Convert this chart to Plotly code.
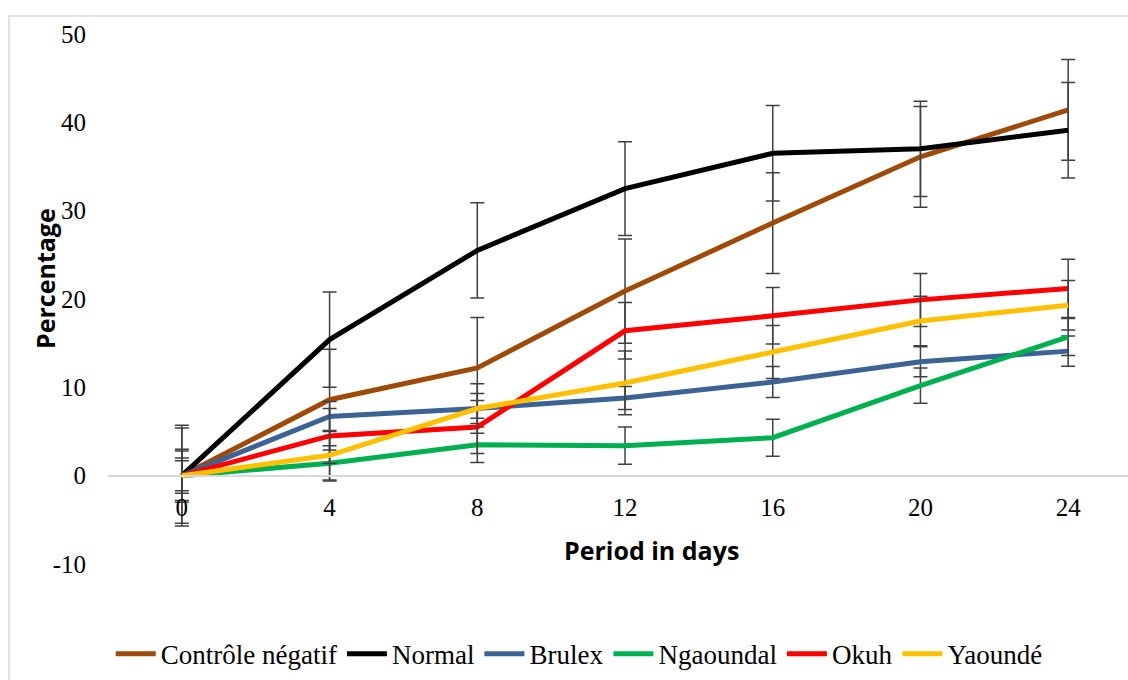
import plotly.graph_objects as go

days = [0, 4, 8, 12, 16, 20, 24]
y_ticks = [-10, 0, 10, 20, 30, 40, 50]
y_ticktext = ["-10", "0", "10", "20", "30", "40", "50"]
series_names = ["Contrôle négatif", "Normal", "Brulex", "Ngaoundal", "Okuh", "Yaoundé"]
colors = ["#9E4A09", "#000000", "#3B6396", "#00B050", "#FF0000", "#FFC000"]

controle = [0, 8.6, 12.2, 20.9, 28.6, 36.1, 41.4]
normal = [0, 15.4, 25.5, 32.5, 36.5, 37.0, 39.1]
brulex = [0, 6.7, 7.6, 8.8, 10.6, 12.9, 14.1]
ngaoundal = [0, 1.4, 3.5, 3.4, 4.3, 10.2, 15.7]
okuh = [0, 4.5, 5.5, 16.4, 18.1, 19.9, 21.2]
yaounde = [0, 2.3, 7.6, 10.5, 14.0, 17.5, 19.3]

err_controle = [5.7, 5.7, 5.7, 5.9, 5.7, 5.7, 5.7]
err_normal = [5.4, 5.4, 5.4, 5.3, 5.4, 5.4, 5.4]
err_brulex = [1.7, 1.7, 1.7, 1.3, 1.75, 1.7, 1.7]
err_ngaoundal = [2.0, 2.0, 2.0, 2.1, 2.1, 2.0, 2.1]
err_okuh = [3.0, 3.1, 3.0, 3.2, 3.2, 3.0, 3.3]
err_yaounde = [2.8, 2.8, 2.8, 3.6, 3.0, 2.8, 2.8]

values = [controle, normal, brulex, ngaoundal, okuh, yaounde]
errors = [err_controle, err_normal, err_brulex, err_ngaoundal, err_okuh, err_yaounde]

fig = go.Figure()
for name, col, v, e in zip(series_names, colors, values, errors):
    fig.add_trace(go.Scatter(
        x=days, y=v, name=name, mode="lines",
        line=dict(color=col, width=5),
        error_y=dict(type="data", array=e, visible=True, color="#404040",
                     thickness=1.5, width=7),
    ))

fig.update_layout(
    width=1128, height=680,
    margin=dict(l=108, r=0, t=34, b=116),
    paper_bgcolor="white", plot_bgcolor="white",
    font=dict(family="Liberation Serif, Times New Roman, serif", size=25, color="#000000"),
    showlegend=True,
    legend=dict(orientation="h", x=0.462, xanchor="center", y=-0.17, yanchor="middle",
                font=dict(family="Liberation Serif, serif", size=27, color="#000000"),
                itemwidth=40, tracegroupgap=0),
    xaxis=dict(range=[-2.0, 25.62], tickvals=days, ticktext=[str(d) for d in days],
               showgrid=False, zeroline=False, showline=True, linecolor="#d9d9d9", linewidth=2,
               anchor="free", position=(564 - 476) / 530, ticks="", ticklabelstandoff=9,
               tickfont=dict(family="Liberation Serif, serif", size=25)),
    yaxis=dict(range=[-10, 50], tickvals=y_ticks, ticktext=y_ticktext,
               showgrid=False, zeroline=False, showline=False,
               ticks="", ticklabelstandoff=21,
               tickfont=dict(family="Liberation Serif, serif", size=25)),
    annotations=[
        dict(text="<b>Period in days</b>", xref="paper", yref="paper",
             x=(651 - 108) / 1020, y=(564 - 550) / 530, xanchor="center", yanchor="middle",
             showarrow=False, font=dict(family="Open Sans, sans-serif", size=25, color="#000000")),
        dict(text="<b>Percentage</b>", xref="paper", yref="paper", textangle=-90,
             x=(45 - 108) / 1020, y=(564 - 279) / 530, xanchor="center", yanchor="middle",
             showarrow=False, font=dict(family="Open Sans, sans-serif", size=25, color="#000000")),
    ],
    shapes=[
        dict(type="rect", xref="paper", yref="paper",
             x0=(9 - 108) / 1020, x1=1.05, y0=(564 - 720) / 530, y1=(564 - 16) / 530,
             line=dict(color="#d9d9d9", width=1.5), fillcolor="rgba(0,0,0,0)", layer="below"),
    ],
)

fig.write_html("out.html")
